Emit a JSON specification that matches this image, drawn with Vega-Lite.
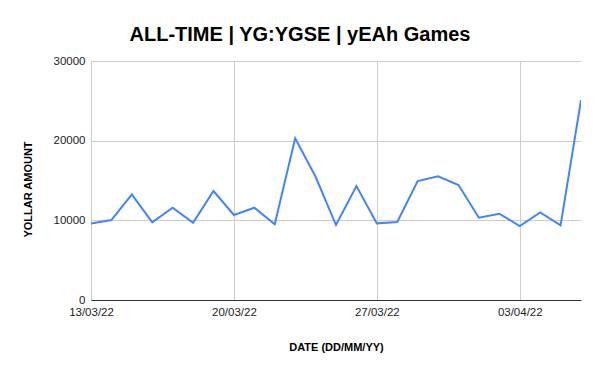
{
  "$schema": "https://vega.github.io/schema/vega-lite/v6.json",
  "width": 490,
  "height": 239,
  "autosize": {"type": "none"},
  "padding": {"left": 91, "top": 61, "right": 19, "bottom": 71},
  "background": "white",
  "config": {"view": {"stroke": null}, "font": "Liberation Sans"},
  "title": {
    "text": "ALL-TIME | YG:YGSE | yEAh Games",
    "font": "Liberation Sans",
    "fontSize": 20,
    "fontWeight": "bold",
    "color": "#000000",
    "anchor": "middle",
    "dx": -36,
    "offset": 10
  },
  "data": {
    "values": [
      {"date": "2022-03-13", "amount": 9600},
      {"date": "2022-03-14", "amount": 10040},
      {"date": "2022-03-15", "amount": 13260},
      {"date": "2022-03-16", "amount": 9750},
      {"date": "2022-03-17", "amount": 11580},
      {"date": "2022-03-18", "amount": 9700},
      {"date": "2022-03-19", "amount": 13680},
      {"date": "2022-03-20", "amount": 10670},
      {"date": "2022-03-21", "amount": 11580},
      {"date": "2022-03-22", "amount": 9500},
      {"date": "2022-03-23", "amount": 20290},
      {"date": "2022-03-24", "amount": 15470},
      {"date": "2022-03-25", "amount": 9410},
      {"date": "2022-03-26", "amount": 14300},
      {"date": "2022-03-27", "amount": 9620},
      {"date": "2022-03-28", "amount": 9790},
      {"date": "2022-03-29", "amount": 14930},
      {"date": "2022-03-30", "amount": 15520},
      {"date": "2022-03-31", "amount": 14430},
      {"date": "2022-04-01", "amount": 10330},
      {"date": "2022-04-02", "amount": 10830},
      {"date": "2022-04-03", "amount": 9290},
      {"date": "2022-04-04", "amount": 11000},
      {"date": "2022-04-05", "amount": 9370},
      {"date": "2022-04-06", "amount": 25090}
    ]
  },
  "mark": {"type": "line", "color": "#4285F4", "strokeWidth": 2, "clip": true},
  "encoding": {
    "x": {
      "field": "date",
      "type": "temporal",
      "timeUnit": "utcyearmonthdate",
      "scale": {"domain": [{"year": 2022, "month": 3, "date": 13, "utc": true}, {"year": 2022, "month": 4, "date": 6, "utc": true}]},
      "axis": {
        "title": "DATE (DD/MM/YY)",
        "format": "%d/%m/%y",
        "values": [
          {"year": 2022, "month": 3, "date": 13, "utc": true},
          {"year": 2022, "month": 3, "date": 20, "utc": true},
          {"year": 2022, "month": 3, "date": 27, "utc": true},
          {"year": 2022, "month": 4, "date": 3, "utc": true}
        ],
        "labelFont": "Liberation Sans",
        "labelFontSize": 11.5,
        "labelColor": "#222222",
        "labelPadding": 6,
        "labelFlush": false,
        "ticks": false,
        "domainColor": "#333333",
        "domainWidth": 1,
        "gridColor": "#cccccc",
        "titleFont": "Liberation Sans",
        "titleFontSize": 11,
        "titleFontWeight": "bold",
        "titleColor": "#000000",
        "titlePadding": 24
      }
    },
    "y": {
      "field": "amount",
      "type": "quantitative",
      "scale": {"domain": [0, 30000], "nice": false},
      "axis": {
        "title": "YOLLAR AMOUNT",
        "values": [0, 10000, 20000, 30000],
        "format": "d",
        "labelFont": "Liberation Sans",
        "labelFontSize": 11.5,
        "labelColor": "#222222",
        "labelPadding": 6,
        "ticks": false,
        "domain": false,
        "gridColor": "#cccccc",
        "titleFont": "Liberation Sans",
        "titleFontSize": 11,
        "titleFontWeight": "bold",
        "titleColor": "#000000",
        "titlePadding": 20,
        "titleY": 128
      }
    }
  }
}
